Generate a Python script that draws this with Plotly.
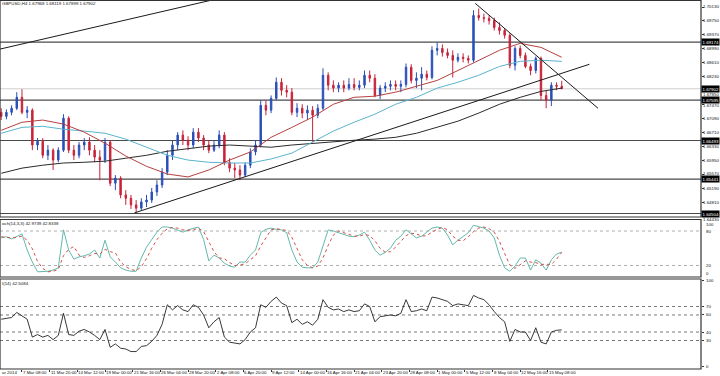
import plotly.graph_objects as go

W, H = 720, 376
FONT = "Liberation Sans, Arial, sans-serif"
FS = 4.4

symbol_title = "GBPUSD,H4 1.67968 1.68119 1.67899 1.67902"
stoch_title = "och(14,3,3) 42.9739 42.8338"
rsi_title = "I(14) 42.5084"

# each candle = 3 H4 bars (12h), bar 0 = 7 Mar 08:00
first_bar = -12
bar_step = 3

opens = [1.6726, 1.6715, 1.6726, 1.6737, 1.6767, 1.6726, 1.6732, 1.6637, 1.6647, 1.6609,
         1.6623, 1.6596, 1.6623, 1.6710, 1.6623, 1.6609, 1.6637, 1.6645, 1.6623, 1.6604,
         1.6596, 1.6645, 1.6533, 1.6547, 1.6501, 1.6492, 1.6474, 1.6465, 1.6482, 1.6487,
         1.6509, 1.6528, 1.6563, 1.6609, 1.6637, 1.6664, 1.6650, 1.6637, 1.6672, 1.6656,
         1.6637, 1.6623, 1.6637, 1.6664, 1.6590, 1.6574, 1.6569, 1.6555, 1.6582, 1.6618,
         1.6637, 1.6745, 1.6732, 1.6764, 1.6808, 1.6786, 1.6781, 1.6726, 1.6737, 1.6724,
         1.6732, 1.6718, 1.6737, 1.6827, 1.6800, 1.6792, 1.6800, 1.6792, 1.6802, 1.6794,
         1.6800, 1.6827, 1.6819, 1.6772, 1.6792, 1.6797, 1.6802, 1.6797, 1.6802, 1.6849,
         1.6813, 1.6819, 1.6830, 1.6821, 1.6895, 1.6900, 1.6889, 1.6881, 1.6868, 1.6876,
         1.6873, 1.6868, 1.6990, 1.6984, 1.6982, 1.6976, 1.6957, 1.6949, 1.6936, 1.6854,
         1.6900, 1.6881, 1.6851, 1.6840, 1.6873, 1.6772, 1.6759, 1.6800, 1.67968]
highs = [1.6737, 1.6734, 1.6745, 1.6781, 1.6789, 1.6743, 1.6737, 1.6656, 1.6656, 1.6637,
         1.6628, 1.6631, 1.6721, 1.6715, 1.6637, 1.6645, 1.6656, 1.6658, 1.6637, 1.6623,
         1.6656, 1.6650, 1.6555, 1.6552, 1.6514, 1.6501, 1.6487, 1.6492, 1.6501, 1.6520,
         1.6541, 1.6574, 1.6623, 1.6650, 1.6672, 1.6677, 1.6661, 1.6683, 1.6683, 1.6664,
         1.6650, 1.6650, 1.6677, 1.6672, 1.6601, 1.6588, 1.6582, 1.6590, 1.6628, 1.6650,
         1.6759, 1.6759, 1.6772, 1.6821, 1.6819, 1.6800, 1.6792, 1.6751, 1.6748, 1.6745,
         1.6743, 1.6748, 1.6846, 1.6835, 1.6813, 1.6808, 1.6813, 1.6819, 1.6819, 1.6813,
         1.6840, 1.6840, 1.6830, 1.6800, 1.6808, 1.6813, 1.6813, 1.6813, 1.6859, 1.6857,
         1.6835, 1.6849, 1.6840, 1.6906, 1.6917, 1.6911, 1.6900, 1.6895, 1.6887, 1.6887,
         1.6881, 1.7004, 1.7009, 1.6995, 1.6990, 1.6984, 1.6971, 1.6955, 1.6941, 1.6906,
         1.6908, 1.6889, 1.6859, 1.6878, 1.6878, 1.6786, 1.6808, 1.6808, 1.68119]
lows = [1.6705, 1.6707, 1.6718, 1.6732, 1.6721, 1.6710, 1.6623, 1.6623, 1.6601, 1.6596,
        1.6569, 1.6590, 1.6618, 1.6615, 1.6596, 1.6601, 1.6623, 1.6609, 1.6590, 1.6541,
        1.6588, 1.6525, 1.6514, 1.6492, 1.6474, 1.6463, 1.6452, 1.6460, 1.6468, 1.6479,
        1.6498, 1.6520, 1.6555, 1.6596, 1.6623, 1.6637, 1.6623, 1.6628, 1.6645, 1.6623,
        1.6615, 1.6618, 1.6628, 1.6582, 1.6563, 1.6547, 1.6541, 1.6550, 1.6574, 1.6609,
        1.6631, 1.6718, 1.6724, 1.6759, 1.6772, 1.6767, 1.6718, 1.6713, 1.6710, 1.6705,
        1.6645, 1.6710, 1.6732, 1.6786, 1.6781, 1.6781, 1.6781, 1.6786, 1.6786, 1.6786,
        1.6792, 1.6808, 1.6767, 1.6762, 1.6781, 1.6786, 1.6786, 1.6781, 1.6794, 1.6805,
        1.6792, 1.6786, 1.6813, 1.6816, 1.6881, 1.6878, 1.6873, 1.6821, 1.6862, 1.6862,
        1.6859, 1.6862, 1.6976, 1.6971, 1.6965, 1.6949, 1.6938, 1.6927, 1.6846, 1.6840,
        1.6873, 1.6846, 1.6827, 1.6832, 1.6759, 1.6737, 1.6743, 1.6786, 1.67899]
closes = [1.6715, 1.6726, 1.6737, 1.6767, 1.6726, 1.6732, 1.6637, 1.6647, 1.6609, 1.6623,
          1.6596, 1.6623, 1.6710, 1.6623, 1.6609, 1.6637, 1.6645, 1.6623, 1.6604, 1.6596,
          1.6645, 1.6533, 1.6547, 1.6501, 1.6492, 1.6474, 1.6465, 1.6482, 1.6487, 1.6509,
          1.6528, 1.6563, 1.6609, 1.6637, 1.6664, 1.6650, 1.6637, 1.6672, 1.6656, 1.6637,
          1.6623, 1.6637, 1.6664, 1.6590, 1.6574, 1.6569, 1.6555, 1.6582, 1.6618, 1.6637,
          1.6745, 1.6732, 1.6764, 1.6808, 1.6786, 1.6781, 1.6726, 1.6737, 1.6724, 1.6732,
          1.6718, 1.6737, 1.6827, 1.6800, 1.6792, 1.6800, 1.6792, 1.6802, 1.6794, 1.6800,
          1.6827, 1.6819, 1.6772, 1.6792, 1.6797, 1.6802, 1.6797, 1.6802, 1.6849, 1.6813,
          1.6819, 1.6830, 1.6821, 1.6895, 1.6900, 1.6889, 1.6881, 1.6868, 1.6876, 1.6873,
          1.6868, 1.6990, 1.6984, 1.6982, 1.6976, 1.6957, 1.6949, 1.6936, 1.6854, 1.6900,
          1.6881, 1.6851, 1.6840, 1.6873, 1.6772, 1.6759, 1.6800, 1.6797, 1.67902]
bars = [first_bar + bar_step * i for i in range(len(closes))]

# moving averages read every 4th candle
ma_red = [1.6677, 1.6699, 1.6705, 1.6694, 1.6672, 1.6642, 1.6607, 1.6579, 1.6558, 1.6550,
          1.6569, 1.6596, 1.6618, 1.6658, 1.6685, 1.6713, 1.6748, 1.6767, 1.6770, 1.6781,
          1.6797, 1.6813, 1.6840, 1.6868, 1.6895, 1.6914, 1.6903, 1.6876]
ma_cyan = [1.6669, 1.6685, 1.6688, 1.6680, 1.6675, 1.6669, 1.6653, 1.6631, 1.6609, 1.6596,
           1.6590, 1.6588, 1.6588, 1.6599, 1.6615, 1.6645, 1.6675, 1.6699, 1.6721, 1.6748,
           1.6767, 1.6792, 1.6808, 1.6827, 1.6851, 1.6865, 1.6868, 1.6865]
ma_black = [1.6560, 1.6574, 1.6582, 1.6588, 1.6590, 1.6593, 1.6601, 1.6609, 1.6620, 1.6628,
            1.6634, 1.6637, 1.6634, 1.6631, 1.6637, 1.6642, 1.6647, 1.6650, 1.6653, 1.6658,
            1.6669, 1.6685, 1.6702, 1.6724, 1.6748, 1.6767, 1.6783, 1.6792]
ma_bars = bars[::4]

trend_upper_bars = [-13, 130]
trend_upper_prices = [1.6898, 1.7054]
trend_down_bars = [262, 333]
trend_down_prices = [1.7023, 1.6737]
trend_up_bars = [65, 328]
trend_up_prices = [1.6452, 1.6857]

level_prices = [1.69174, 1.67595, 1.66493, 1.65441, 1.64504]
bid_price = 1.67902

price_ticks = [1.70130, 1.69750, 1.69370, 1.68990, 1.68610, 1.68230, 1.67850, 1.67470,
               1.67090, 1.66710, 1.66330, 1.65950, 1.65570, 1.65190, 1.64810, 1.64430]

time_tick_bars = [0, 16, 32, 48, 64, 80, 96, 112, 128, 144, 160, 176, 192, 208, 224, 240,
                  256, 272, 288, 304]
time_labels = ["7 Mar 08:00", "11 Mar 20:00", "14 Mar 12:00", "19 Mar 00:00", "21 Mar 16:00",
               "26 Mar 04:00", "28 Mar 20:00", "2 Apr 08:00", "6 Apr 20:00", "9 Apr 12:00",
               "14 Apr 00:00", "16 Apr 16:00", "21 Apr 04:00", "23 Apr 20:00", "28 Apr 08:00",
               "1 May 00:00", "5 May 12:00", "8 May 04:00", "12 May 16:00", "15 May 08:00"]
first_label = "ar 2014"

stoch_main = [68, 70, 66, 71, 75, 47, 26, 9, 9, 10,
              12, 16, 82, 47, 31, 35, 37, 40, 47, 33,
              64, 35, 26, 16, 12, 10, 10, 33, 52, 64,
              78, 87, 87, 85, 82, 78, 82, 85, 87, 65,
              28, 38, 33, 24, 19, 17, 26, 26, 38, 47,
              77, 83, 85, 83, 82, 77, 47, 26, 17, 16,
              16, 26, 56, 82, 80, 77, 73, 71, 70, 73,
              78, 64, 47, 38, 43, 50, 64, 71, 82, 75,
              68, 71, 78, 85, 87, 85, 73, 56, 64, 70,
              77, 90, 87, 85, 80, 68, 38, 16, 10, 19,
              33, 33, 12, 30, 24, 12, 30, 40, 42.9739]
stoch_signal = [70, 69, 68, 69, 71, 64, 49, 27, 15, 9,
                10, 13, 37, 48, 53, 38, 34, 37, 41, 40,
                48, 44, 42, 26, 18, 13, 11, 18, 32, 50,
                65, 76, 84, 86, 85, 82, 81, 82, 85, 79,
                60, 44, 33, 32, 25, 20, 21, 23, 30, 37,
                54, 69, 82, 84, 83, 81, 69, 50, 30, 20,
                16, 19, 33, 55, 73, 80, 77, 74, 71, 71,
                74, 72, 63, 50, 43, 44, 52, 62, 72, 76,
                75, 71, 72, 78, 83, 86, 82, 71, 64, 63,
                70, 79, 85, 87, 84, 78, 62, 41, 21, 15,
                21, 28, 26, 25, 22, 22, 22, 31, 42.8338]
stoch_levels = [20, 80]
stoch_labels = [100, 80, 20, 0]

rsi_values = [55, 56, 57, 63, 59, 55, 34, 37, 34, 36,
              31, 36, 62, 37, 36, 41, 43, 40, 36, 31,
              43, 22, 26, 21, 20, 17, 17, 23, 24, 29,
              36, 49, 72, 66, 71, 66, 64, 72, 69, 60,
              45, 52, 57, 34, 28, 27, 26, 31, 40, 45,
              72, 69, 76, 81, 74, 71, 51, 55, 49, 52,
              48, 55, 78, 69, 66, 67, 64, 66, 64, 65,
              73, 70, 52, 58, 59, 60, 59, 62, 78, 64,
              65, 67, 65, 81, 80, 78, 76, 71, 73, 72,
              71, 83, 80, 78, 72, 64, 57, 52, 29, 43,
              40, 40, 30, 45, 28, 26, 40, 42, 42.5084]
rsi_levels = [30, 40, 60, 70]
rsi_ticks = [100, 70, 60, 40, 30, 0]

# ---------------- layout geometry (pixels) ----------------
X_RIGHT = 701 / W
X_RANGE = [-12.7, 392.5]
LABEL_X = 719.5 / W
Y_RANGE = [1.64409, 1.70307]
MAIN_TOP, MAIN_BOT = 0.5, 217


def dom(top_px, bot_px):
    return [1 - bot_px / H, 1 - top_px / H]


def py(px):
    return 1 - px / H


def price_px(p):
    return MAIN_BOT - (p - Y_RANGE[0]) / (Y_RANGE[1] - Y_RANGE[0]) * (MAIN_BOT - MAIN_TOP)


main_dom = dom(MAIN_TOP, MAIN_BOT)
stoch_dom = dom(219.5, 277)
rsi_dom = dom(279, 369)

fig = go.Figure()

fig.add_trace(go.Candlestick(
    x=bars, open=opens, high=highs, low=lows, close=closes,
    increasing=dict(line=dict(color="#2a4fb8", width=1), fillcolor="#2a4fb8"),
    decreasing=dict(line=dict(color="#c8233a", width=1), fillcolor="#c8233a"),
    whiskerwidth=0, xaxis="x", yaxis="y", hoverinfo="skip", showlegend=False))

for vals, col in [(ma_black, "#2b2b2b"), (ma_cyan, "#5ab3cc"), (ma_red, "#b5403f")]:
    fig.add_trace(go.Scatter(x=ma_bars, y=vals, mode="lines", xaxis="x", yaxis="y",
                             line=dict(color=col, width=1), hoverinfo="skip", showlegend=False))

for bx, pr in [(trend_upper_bars, trend_upper_prices), (trend_down_bars, trend_down_prices),
               (trend_up_bars, trend_up_prices)]:
    fig.add_trace(go.Scatter(x=bx, y=pr, mode="lines", xaxis="x", yaxis="y",
                             line=dict(color="#1a1a1a", width=1), hoverinfo="skip", showlegend=False))

fig.add_trace(go.Scatter(x=bars, y=stoch_main, mode="lines", xaxis="x2", yaxis="y2",
                         line=dict(color="#63b9ac", width=1), hoverinfo="skip", showlegend=False))
fig.add_trace(go.Scatter(x=bars, y=stoch_signal, mode="lines", xaxis="x2", yaxis="y2",
                         line=dict(color="#d0504a", width=1, dash="dot"), hoverinfo="skip",
                         showlegend=False))
fig.add_trace(go.Scatter(x=bars, y=rsi_values, mode="lines", xaxis="x3", yaxis="y3",
                         line=dict(color="#222222", width=0.9), hoverinfo="skip", showlegend=False))

shapes = []
for p in level_prices:
    shapes.append(dict(type="line", xref="paper", x0=0, x1=X_RIGHT, yref="y", y0=p, y1=p,
                       line=dict(color="#4a4a4a", width=1.2), layer="below"))
shapes.append(dict(type="line", xref="paper", x0=0, x1=X_RIGHT, yref="y", y0=bid_price,
                   y1=bid_price, line=dict(color="#cfcfcf", width=1), layer="below"))
for lv in stoch_levels:
    shapes.append(dict(type="line", xref="paper", x0=0, x1=X_RIGHT, yref="y2", y0=lv, y1=lv,
                       line=dict(color="#9a9a9a", width=0.8, dash="dot"), layer="below"))
for lv in rsi_levels:
    shapes.append(dict(type="line", xref="paper", x0=0, x1=X_RIGHT, yref="y3", y0=lv, y1=lv,
                       line=dict(color="#555555", width=0.8, dash="dot"), layer="below"))
for d in (main_dom, stoch_dom, rsi_dom):
    shapes.append(dict(type="rect", xref="paper", yref="paper", x0=0, x1=X_RIGHT,
                       y0=d[0], y1=d[1], line=dict(color="#333333", width=1.2),
                       fillcolor="rgba(0,0,0,0)", layer="above"))

ann = []
small = dict(family=FONT, size=FS, color="#111111")


def label(text, yref, y, **kw):
    d = dict(text=text, xref="paper", yref=yref, x=LABEL_X, y=y, xanchor="right",
             yanchor="middle", showarrow=False, borderpad=0, font=small)
    d.update(kw)
    return d


ann.append(dict(text=symbol_title, xref="paper", yref="paper", x=1 / W, y=py(3.5),
                xanchor="left", yanchor="middle", showarrow=False, borderpad=0, font=small))
ann.append(dict(text=stoch_title, xref="paper", yref="paper", x=1 / W, y=py(223.5),
                xanchor="left", yanchor="middle", showarrow=False, borderpad=0, font=small))
ann.append(dict(text=rsi_title, xref="paper", yref="paper", x=1 / W, y=py(283),
                xanchor="left", yanchor="middle", showarrow=False, borderpad=0, font=small))

boxes_px = [price_px(p) for p in level_prices + [bid_price]]
for t in price_ticks:
    tp = price_px(t)
    shift = 0
    for bp in boxes_px:
        gap = tp - bp
        if abs(gap) < 5.5:
            # nudge the plain tick label away from a highlighted price box
            shift = -(5.5 - abs(gap)) if gap >= 0 else (5.5 - abs(gap))
    ann.append(label(f"{t:.5f}", "y", t, yshift=shift))

for p in level_prices + [bid_price]:
    ann.append(label(f"{p:.5f}", "y", p, bgcolor="#000000", borderpad=0.5,
                     font=dict(family=FONT, size=FS, color="#ffffff")))

for v in stoch_labels:
    ya = "top" if v == 100 else ("bottom" if v == 0 else "middle")
    ann.append(dict(text=str(v), xref="paper", yref="y2", x=705 / W, y=v,
                    xanchor="left", yanchor=ya, yshift=-1.5 if v == 100 else 0,
                    showarrow=False, borderpad=0, font=small))

for v in rsi_ticks:
    ann.append(dict(text=str(v), xref="paper", yref="y3", x=705 / W, y=v,
                    xanchor="left", yanchor="middle", showarrow=False, borderpad=0, font=small))

for b, lab in zip(time_tick_bars, time_labels):
    ann.append(dict(text=lab, xref="x3", yref="paper", x=b, y=py(375.5),
                    xanchor="left", yanchor="bottom", showarrow=False, borderpad=0, font=small))
ann.append(dict(text=first_label, xref="paper", yref="paper", x=1 / W, y=py(375.5),
                xanchor="left", yanchor="bottom", showarrow=False, borderpad=0, font=small))

axis_common = dict(showgrid=False, zeroline=False, showline=False)

fig.update_layout(
    width=W, height=H, margin=dict(l=0, r=0, t=0, b=0),
    paper_bgcolor="white", plot_bgcolor="white", showlegend=False, hovermode=False,
    font=dict(family=FONT, size=FS, color="#111111"),
    boxgap=0.6,
    xaxis=dict(domain=[0, X_RIGHT], range=X_RANGE, anchor="y", showticklabels=False,
               rangeslider=dict(visible=False), ticks="", **axis_common),
    xaxis2=dict(domain=[0, X_RIGHT], range=X_RANGE, anchor="y2", matches="x",
                showticklabels=False, ticks="", **axis_common),
    xaxis3=dict(domain=[0, X_RIGHT], range=X_RANGE, anchor="y3", matches="x",
                tickvals=time_tick_bars, showticklabels=False, ticks="outside", ticklen=2,
                tickcolor="#333333", **axis_common),
    yaxis=dict(domain=main_dom, range=Y_RANGE, anchor="x", side="right",
               tickvals=price_ticks, showticklabels=False,
               ticks="outside", ticklen=2, tickcolor="#333333", **axis_common),
    yaxis2=dict(domain=stoch_dom, range=[0, 100], anchor="x2", side="right",
                showticklabels=False, ticks="", **axis_common),
    yaxis3=dict(domain=rsi_dom, range=[-3.5, 102.3], anchor="x3", side="right",
                tickvals=rsi_ticks, showticklabels=False,
                ticks="outside", ticklen=2, tickcolor="#333333", **axis_common),
    shapes=shapes, annotations=ann,
)

fig.write_html("out.html", config={"displayModeBar": False, "staticPlot": True},
               post_script="document.body.style.margin='0';document.body.style.overflow='hidden';")
